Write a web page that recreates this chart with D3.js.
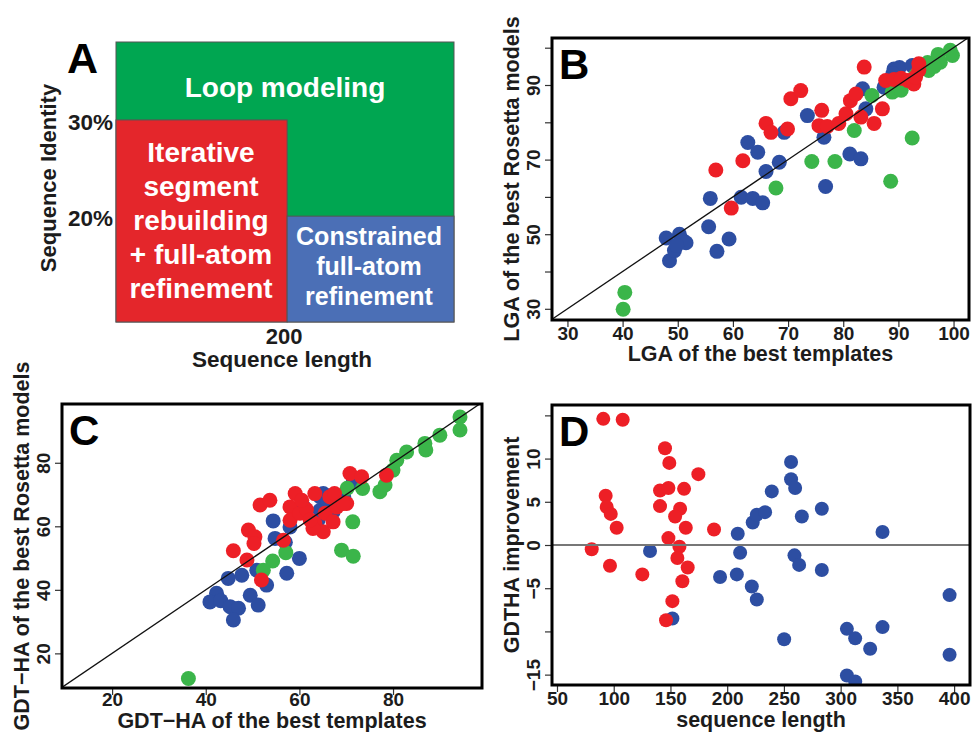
<!DOCTYPE html>
<html>
<head>
<meta charset="utf-8">
<script src="https://cdn.jsdelivr.net/npm/d3@7"></script>
<style>
  html, body { margin: 0; padding: 0; background: #fff; }
  svg { display: block; font-family: "Liberation Sans", Arial, Helvetica, sans-serif; font-weight: bold; }
</style>
</head>
<body>
<svg id="fig"></svg>
<script>
// Four-panel figure: protocol map (A), LGA model vs template (B),
// GDT-HA model vs template (C), GDT-HA improvement vs sequence length (D).

// ---- Panel A: protocol regions (sequence length x sequence identity %) ----
const A_LENGTH_DOMAIN = [0, 395];
const A_IDENTITY_DOMAIN = [9, 38.1];
const A_REGIONS = [
  { key: "loop", x0: 0, x1: 395, y0: 9, y1: 38.1, lines: ["Loop modeling"] },
  { key: "iter", x0: 0, x1: 200, y0: 9, y1: 30, lines: ["Iterative", "segment", "rebuilding", "+ full-atom", "refinement"] },
  { key: "cons", x0: 200, x1: 395, y0: 9, y1: 20, lines: ["Constrained", "full-atom", "refinement"] }
];
const A_X_TICKS = [200];
const A_Y_TICKS = [30, 20];

// ---- Panel B: LGA [template, model] ----
const lgaBlue = [[47.9,49.0],[48.5,42.9],[49.4,45.6],[50.3,50.0],[50.9,48.3],[51.5,47.7],[49.8,47.0],
  [55.9,59.6],[55.6,52.0],[57.1,45.4],[59.3,48.7],[61.5,59.9],[63.6,59.6],[65.4,58.4],[62.7,74.6],
  [64.5,72.0],[66.0,66.8],[68.4,69.3],[69.3,77.3],[73.5,81.8],[76.5,76.0],[76.8,62.8],[81.2,71.5],
  [83.2,70.2],[83.5,89.0],[84.1,83.6],[87.4,89.4],[89.2,94.3],[90.2,94.7],[92.5,95.2],[89.0,93.0]];
const lgaGreen = [[40.4,34.4],[40.1,29.9],[67.8,62.4],[74.3,69.5],[78.5,69.5],[82.0,77.8],[88.6,64.2],
  [92.5,75.8],[85.2,87.2],[88.9,88.1],[90.5,88.6],[93.1,92.6],[95.5,93.9],[95.3,96.0],[97.2,98.2],
  [97.6,96.1],[99.4,99.3],[99.8,97.9],[96.5,95.0]];
const lgaRed = [[56.9,67.2],[59.7,57.0],[61.8,69.7],[66.0,79.7],[66.9,77.3],[69.9,78.2],[70.5,86.3],
  [72.3,88.5],[76.1,83.2],[75.6,79.1],[77.1,78.9],[79.2,79.7],[80.5,82.3],[81.3,85.8],[82.3,87.6],
  [83.8,94.8],[83.2,81.4],[85.6,79.7],[87.1,83.6],[87.7,91.2],[89.2,91.5],[90.5,91.8],[91.7,91.2],
  [92.8,90.3],[93.7,93.9],[93.7,95.7],[93.1,92.1]];
const B_TICKS = [30, 40, 50, 60, 70, 80, 90, 100];
const B_X_LABELS = [30, 40, 50, 60, 70, 80, 90, 100];
const B_Y_LABELS = [30, 50, 70, 90];

// ---- Panel C: GDT-HA [template, model] ----
const gdtBlue = [[42.3,38.9],[40.9,36.2],[43.2,36.6],[45.2,34.7],[47.0,34.2],[45.9,30.5],[44.8,43.6],
  [47.7,44.6],[49.5,38.3],[51.2,35.2],[50.9,46.2],[53.0,41.5],[54.4,61.7],[54.8,56.2],[57.3,45.2],
  [60.0,49.9],[58.0,59.8],[64.4,69.3],[65.1,70.3],[67.2,64.6],[71.5,74.0],[64.4,65.0],[61.0,66.0],
  [64.0,62.0],[66.0,68.0],[69.5,69.0],[57.0,55.0]];
const gdtGreen = [[36.3,12.1],[54.3,49.1],[57.1,51.7],[52.3,46.2],[69.0,52.5],[71.5,50.6],[71.4,61.4],
  [73.5,71.9],[77.2,70.9],[78.3,73.0],[80.0,77.7],[80.8,80.8],[82.9,83.4],[86.8,86.1],[87.0,84.0],
  [90.0,88.7],[94.3,94.4],[94.3,90.3],[70.2,72.0]];
const gdtRed = [[51.9,43.1],[45.9,52.3],[48.8,49.4],[49.1,58.8],[50.5,56.7],[50.3,54.6],[51.6,66.7],
  [53.7,68.2],[56.6,55.6],[58.0,66.1],[59.1,70.3],[58.0,61.9],[60.1,64.1],[61.5,65.3],[63.3,70.3],
  [63.3,60.9],[65.1,58.3],[62.9,59.3],[65.5,64.1],[66.5,69.3],[67.5,70.3],[67.2,61.4],[70.1,67.2],
  [70.8,76.6],[73.3,75.6],[78.6,76.1],[60.5,68.2],[68.0,66.1],[62.3,62.0],[69.4,67.2]];
const C_TICKS = [20, 40, 60, 80];

// ---- Panel D: [sequence length, GDT-HA improvement] ----
const impRed = [[90.8,14.6],[107.9,14.5],[145.2,11.2],[149.0,9.5],[174.6,8.2],[140.8,6.3],[148.2,6.6],
  [162.0,6.5],[92.9,5.7],[93.8,4.4],[97.4,3.6],[102.6,2.0],[140.8,4.5],[158.5,4.2],[154.1,3.3],
  [163.5,2.0],[188.4,1.8],[148.2,0.8],[157.9,-0.2],[156.1,-1.5],[165.2,-2.6],[160.5,-4.2],
  [151.7,-6.5],[146.1,-8.7],[80.6,-0.5],[96.7,-2.4],[125.2,-3.4]];
const impBlue = [[132.0,-0.7],[151.7,-8.5],[209.3,1.3],[211.4,-0.9],[193.7,-3.7],[208.5,-3.4],
  [221.7,-4.8],[226.1,-6.3],[222.5,2.6],[226.1,3.5],[233.4,3.8],[239.3,6.2],[256.3,9.6],[256.3,7.6],
  [259.9,6.6],[265.8,3.3],[283.4,4.2],[336.9,1.5],[259.3,-1.2],[263.4,-2.3],[283.4,-2.9],
  [250.2,-10.9],[305.5,-9.7],[312.8,-10.8],[326.0,-12.0],[336.9,-9.5],[396.0,-5.8],[396.0,-12.7],
  [305.5,-15.1],[312.8,-15.8]];
const D_X_TICKS = [50, 100, 150, 200, 250, 300, 350, 400];
const D_Y_TICKS = [-15, -10, -5, 0, 5, 10, 15];
const D_Y_LABELS = [-15, -5, 0, 5, 10];

(function () {
  const W = 974, H = 732;
  const RED = "#ed1f26", BLUE = "#2d4ea2", GREEN = "#3bb54a";
  const A_COL = { loop: "#00a651", iter: "#e4262b", cons: "#4b6fb6" };
  const INK = "#1c1c1c";

  const svg = d3.select("#fig").attr("width", W).attr("height", H);
  const fmt = d => d < 0 ? "\u2212" + Math.abs(d) : String(d);

  // ---------- Panel A ----------
  (function () {
    const box = { l: 116, r: 454, t: 42, b: 322 };
    const x = d3.scaleLinear().domain(A_LENGTH_DOMAIN).range([box.l, box.r]);
    const y = d3.scaleLinear().domain(A_IDENTITY_DOMAIN).range([box.b, box.t]);
    const g = svg.append("g");

    g.selectAll("rect.region").data(A_REGIONS).join("rect")
      .attr("class", "region")
      .attr("x", d => x(d.x0)).attr("y", d => y(d.y1))
      .attr("width", d => x(d.x1) - x(d.x0)).attr("height", d => y(d.y0) - y(d.y1))
      .attr("fill", d => A_COL[d.key])
      .attr("stroke", "#555").attr("stroke-width", 1);

    // label layout: [centre x, first baseline, line step, font size]
    const LAYOUT = { loop: [285, 97, 0, 28], iter: [201, 162, 34, 28], cons: [369, 245, 30, 25] };
    A_REGIONS.forEach(r => {
      const [cx, by, step, fs] = LAYOUT[r.key];
      const t = g.append("text").attr("fill", "#fff").attr("font-size", fs).attr("text-anchor", "middle");
      r.lines.forEach((ln, i) => t.append("tspan").attr("x", cx).attr("y", by + i * step).text(ln));
    });

    g.selectAll("text.xt").data(A_X_TICKS).join("text").attr("class", "xt")
      .attr("x", d => x(d) - 3).attr("y", box.b + 22)
      .attr("text-anchor", "middle").attr("font-size", 22).attr("fill", INK).text(d => d);
    g.selectAll("text.yt").data(A_Y_TICKS).join("text").attr("class", "yt")
      .attr("x", box.l - 3).attr("y", d => y(d) + 10)
      .attr("text-anchor", "end").attr("font-size", 22.5).attr("fill", INK).text(d => d + "%");

    g.append("text").attr("x", 282).attr("y", 367).attr("text-anchor", "middle")
      .attr("font-size", 22.5).attr("fill", INK).text("Sequence length");
    g.append("text").attr("transform", "translate(56,178) rotate(-90)").attr("text-anchor", "middle")
      .attr("font-size", 22).attr("fill", INK).text("Sequence Identity");
    g.append("text").attr("x", 67).attr("y", 72.5).attr("font-size", 43).attr("fill", "#000").text("A");
  })();

  // ---------- Scatter panel helper ----------
  function scatter(o) {
    const x = d3.scaleLinear().domain(o.xDomain).range([o.l, o.r]);
    const y = d3.scaleLinear().domain(o.yDomain).range([o.b, o.t]);
    const g = svg.append("g");
    const clipId = "clip-" + o.letter;
    svg.append("clipPath").attr("id", clipId).append("rect")
      .attr("x", o.l).attr("y", o.t).attr("width", o.r - o.l).attr("height", o.b - o.t);
    const plot = g.append("g").attr("clip-path", `url(#${clipId})`);

    o.series.forEach(s => {
      plot.append("g").selectAll("circle").data(s.data).join("circle")
        .attr("cx", d => x(d[0])).attr("cy", d => y(d[1]))
        .attr("r", o.radius).attr("fill", s.color);
    });

    if (o.diag) {
      const lo = Math.min(o.xDomain[0], o.yDomain[0]), hi = Math.max(o.xDomain[1], o.yDomain[1]);
      plot.append("line")
        .attr("x1", x(lo)).attr("y1", y(lo)).attr("x2", x(hi)).attr("y2", y(hi))
        .attr("stroke", "#111").attr("stroke-width", 1.3);
    }
    if (o.zero) {
      plot.append("line")
        .attr("x1", o.l).attr("x2", o.r).attr("y1", y(0)).attr("y2", y(0))
        .attr("stroke", "#777").attr("stroke-width", 2);
    }

    // axes
    const xa = g.append("g").attr("transform", `translate(0,${o.b})`)
      .call(d3.axisBottom(x).tickValues(o.xTicks).tickSize(7)
        .tickFormat(d => o.xLabels.includes(d) ? fmt(d) : ""));
    const ya = g.append("g").attr("transform", `translate(${o.l},0)`)
      .call(d3.axisLeft(y).tickValues(o.yTicks).tickSize(7)
        .tickFormat(d => o.yLabels.includes(d) ? fmt(d) : ""));
    [xa, ya].forEach(a => {
      a.attr("font-family", null);
      a.select(".domain").remove();
      a.selectAll(".tick line").attr("stroke", "#333").attr("stroke-width", 1.2);
      a.selectAll(".tick text").attr("fill", INK).attr("font-size", 19);
    });
    xa.selectAll(".tick text").attr("y", o.xLabelY).attr("dy", 0);
    ya.selectAll(".tick text")
      .attr("transform", "rotate(-90)").attr("x", 0).attr("y", -12).attr("dy", 0)
      .attr("text-anchor", "middle");

    // frame
    g.append("rect").attr("x", o.l).attr("y", o.t)
      .attr("width", o.r - o.l).attr("height", o.b - o.t)
      .attr("fill", "none").attr("stroke", "#000").attr("stroke-width", 3);

    // titles
    g.append("text").attr("x", (o.l + o.r) / 2).attr("y", o.b + o.xTitleY)
      .attr("text-anchor", "middle").attr("font-size", 21.5).attr("fill", INK).text(o.xTitle);
    g.append("text")
      .attr("transform", `translate(${o.l - 33},${(o.t + o.b) / 2}) rotate(-90)`)
      .attr("text-anchor", "middle").attr("font-size", 21.5).attr("fill", INK).text(o.yTitle);
    g.append("text").attr("x", o.l + 7).attr("y", o.t + 41)
      .attr("font-size", 42).attr("fill", "#000").text(o.letter);
  }

  scatter({
    letter: "B", l: 552, r: 969, t: 38, b: 320,
    xDomain: [27.2, 102.8], yDomain: [27, 102.6],
    xTicks: B_TICKS, xLabels: B_X_LABELS, yTicks: B_TICKS, yLabels: B_Y_LABELS,
    xLabelY: 20, xTitleY: 41,
    series: [{ data: lgaBlue, color: BLUE }, { data: lgaGreen, color: GREEN }, { data: lgaRed, color: RED }],
    radius: 7.5, diag: true,
    xTitle: "LGA of the best templates", yTitle: "LGA of the best Rosetta models"
  });

  scatter({
    letter: "C", l: 62, r: 482, t: 404, b: 688,
    xDomain: [9.3, 99], yDomain: [9.1, 98.5],
    xTicks: C_TICKS, xLabels: C_TICKS, yTicks: C_TICKS, yLabels: C_TICKS,
    xLabelY: 18, xTitleY: 40,
    series: [{ data: gdtBlue, color: BLUE }, { data: gdtGreen, color: GREEN }, { data: gdtRed, color: RED }],
    radius: 7.5, diag: true,
    xTitle: "GDT\u2212HA of the best templates", yTitle: "GDT\u2212HA of the best Rosetta models"
  });

  scatter({
    letter: "D", l: 552, r: 970, t: 405, b: 685,
    xDomain: [45.6, 414], yDomain: [-16.2, 16.2],
    xTicks: D_X_TICKS, xLabels: D_X_TICKS, yTicks: D_Y_TICKS, yLabels: D_Y_LABELS,
    xLabelY: 19.5, xTitleY: 42,
    series: [{ data: impBlue, color: BLUE }, { data: impRed, color: RED }],
    radius: 7, zero: true,
    xTitle: "sequence length", yTitle: "GDTHA improvement"
  });
})();
</script>
</body>
</html>
